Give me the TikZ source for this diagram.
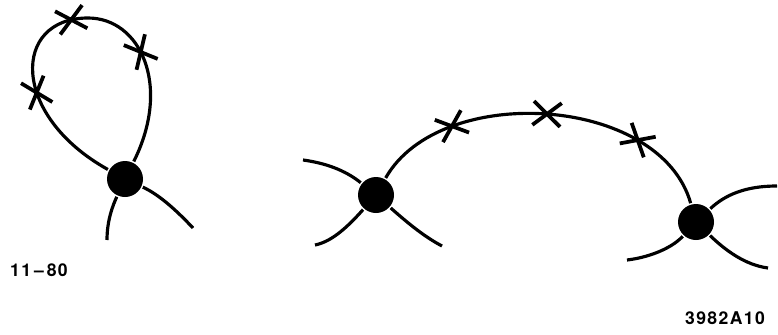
\documentclass[tikz,border=0pt]{standalone}
\usepackage{fontspec}
\newfontfamily\tagfont[LetterSpace=8]{TeX Gyre Heros}
\usetikzlibrary{shapes.misc}

\begin{document}
\begin{tikzpicture}[x=0.03cm,y=-0.03cm,line width=2.7pt,
  vertex/.style={circle,fill,inner sep=0pt,minimum size=1.08cm},
  xmark/.style={cross out,draw,sloped,inner sep=0pt,minimum width=0.72cm,minimum height=0.6cm,line width=3.2pt},
  tag/.style={font=\tagfont\bfseries\fontsize{15}{17}\selectfont,inner sep=0pt}]
\useasboundingbox (0,0) rectangle (778,335);
% tadpole
\node[vertex] (v1) at (125,179) {};
\coordinate (e1) at (107,240);
\coordinate (e2) at (193,228);
\draw (v1) .. controls (10,115) and (12,18) .. node[xmark,pos=0.4]{} node[xmark,pos=0.92]{} (88,18)
  .. controls (140,18) and (172,85) .. node[xmark,pos=0.44]{} (v1);
\draw (v1) .. controls (113,205) and (107,220) .. (e1);
\draw (v1) .. controls (160,195) and (178,212) .. (e2);
% two vertices joined by one line
\node[vertex] (v2) at (376,195) {};
\node[vertex] (v3) at (696,222) {};
\coordinate (a) at (303,160);
\coordinate (b) at (315,245);
\coordinate (c) at (442,246);
\coordinate (d) at (777,186);
\coordinate (e) at (768,268);
\coordinate (f) at (627,260);
\draw (v2) .. controls (440,82) and (660,95) .. node[xmark,pos=0.25]{} node[xmark,pos=0.5]{} node[xmark,pos=0.75]{} (v3);
\draw (v2) .. controls (345,170) and (325,163) .. (a);
\draw (v2) .. controls (345,230) and (330,242) .. (b);
\draw (v2) .. controls (410,225) and (425,237) .. (c);
\draw (v3) .. controls (725,195) and (745,186) .. (d);
\draw (v3) .. controls (725,250) and (745,265) .. (e);
\draw (v3) .. controls (670,250) and (645,258) .. (f);
% labels
\node[tag] (num) at (39,270) {11\,–\,80};
\node[tag] (fig) at (725,318) {3982A10};
\end{tikzpicture}
\end{document}
